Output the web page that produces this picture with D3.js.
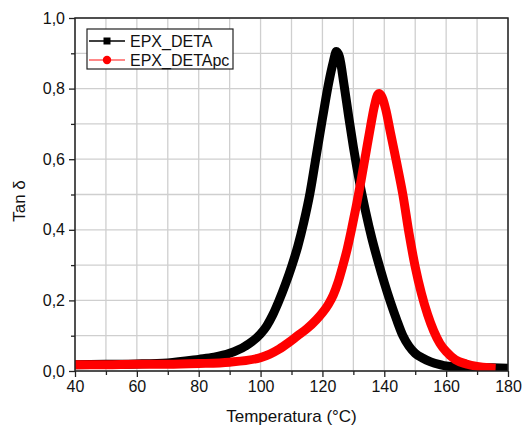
<!DOCTYPE html>
<html><head><meta charset="utf-8">
<script src="https://cdn.jsdelivr.net/npm/d3@7"></script>
<style>body{margin:0;background:#fff}svg{display:block}text{font-family:"Liberation Sans",Arial,sans-serif;fill:#111}</style>
</head><body><svg id="c" width="522" height="430"></svg>
<script>
const seriesNames = ["EPX_DETA", "EPX_DETApc"];
const seriesColors = ["#000000", "#ff0000"];
const legendLineColors = ["#000000", "#ff6060"];
const detaT = [40,50,60,70,80,85,90,95,100,102,104,106,108,110,112,114,116,118,120,122,123.5,124.5,125.5,127,128.5,130,132,134,136,138,140,142,144,146,148,150,152.5,155,158,160,165,170,175,180];
const detaV = [0.018,0.019,0.02,0.023,0.033,0.039,0.05,0.07,0.105,0.128,0.16,0.2,0.245,0.295,0.352,0.422,0.505,0.61,0.715,0.815,0.875,0.905,0.89,0.81,0.72,0.635,0.535,0.45,0.375,0.31,0.25,0.195,0.145,0.1,0.07,0.05,0.036,0.026,0.018,0.014,0.011,0.01,0.009,0.008];
const pcT = [40,50,60,70,80,90,100,103,106,109,112,115,118,120,122,123.5,125,126.5,128,129.5,131,132.5,134,135.5,136.8,137.8,138.4,139.3,140.5,142,144,146,148,150,152,154,156,158,160,163,166.5,170,174,176];
const pcV = [0.018,0.018,0.019,0.019,0.021,0.025,0.038,0.048,0.062,0.08,0.1,0.12,0.145,0.165,0.19,0.215,0.25,0.295,0.345,0.405,0.47,0.54,0.615,0.69,0.75,0.782,0.786,0.775,0.74,0.675,0.59,0.5,0.39,0.295,0.22,0.16,0.113,0.078,0.055,0.032,0.02,0.013,0.009,0.008];
const xTicks = [40,60,80,100,120,140,160,180];
const xMinor = [50,70,90,110,130,150,170];
const yTicks = [0,0.2,0.4,0.6,0.8,1.0];
const yMinor = [0.1,0.3,0.5,0.7,0.9];
const xLabel = "Temperatura (°C)";
const yLabel = "Tan δ";

const svg = d3.select("#c");
const L=75, R=508, T=18, B=371;
const x = d3.scaleLinear().domain([40,180]).range([L,R]);
const y = d3.scaleLinear().domain([0,1]).range([B,T]);
const fmt = d => d3.format(".1f")(d).replace(".", ",");

// grid
const g = svg.append("g");
g.selectAll("line.gx").data(xTicks.concat(xMinor)).join("line")
  .attr("x1",d=>x(d)).attr("x2",d=>x(d)).attr("y1",T).attr("y2",B)
  .attr("stroke","#cfcfcf").attr("stroke-width",1.3);
g.selectAll("line.gy").data(yTicks.concat(yMinor)).join("line")
  .attr("y1",d=>y(d)).attr("y2",d=>y(d)).attr("x1",L).attr("x2",R)
  .attr("stroke","#cfcfcf").attr("stroke-width",1.3);

// curves
svg.append("clipPath").attr("id","cp").append("rect").attr("x",L).attr("y",T).attr("width",R-L).attr("height",B-T);
const line = d3.line().x(d=>x(d[0])).y(d=>y(d[1])).curve(d3.curveMonotoneX);
const data = [d3.zip(detaT,detaV), d3.zip(pcT,pcV)];
svg.append("g").attr("clip-path","url(#cp)").selectAll("path").data(data).join("path")
  .attr("d",line).attr("fill","none").attr("stroke",(d,i)=>seriesColors[i])
  .attr("stroke-width",9).attr("stroke-linejoin","round");

// axes
const ax = svg.append("g").attr("transform",`translate(0,${B})`)
  .call(d3.axisBottom(x).tickValues(xTicks).tickSize(6).tickPadding(4).tickFormat(d3.format("d")));
ax.selectAll("text").attr("font-size",16);
svg.append("g").attr("transform",`translate(0,${B})`)
  .call(d3.axisBottom(x).tickValues(xMinor).tickSize(4).tickFormat(""));
const ay = svg.append("g").attr("transform",`translate(${L},0)`)
  .call(d3.axisLeft(y).tickValues(yTicks).tickSize(6).tickPadding(4).tickFormat(fmt));
ay.selectAll("text").attr("font-size",16);
svg.append("g").attr("transform",`translate(${L},0)`)
  .call(d3.axisLeft(y).tickValues(yMinor).tickSize(4).tickFormat(""));
svg.selectAll(".domain").remove();
svg.selectAll(".tick line").attr("stroke","#222").attr("stroke-width",1.3);
svg.append("rect").attr("x",L).attr("y",T).attr("width",R-L).attr("height",B-T)
  .attr("fill","none").attr("stroke","#222").attr("stroke-width",1.5);

svg.append("text").attr("x",(L+R)/2).attr("y",422).attr("text-anchor","middle").attr("font-size",17).text(xLabel);
svg.append("text").attr("transform","translate(25,201) rotate(-90)").attr("text-anchor","middle").attr("font-size",17).text(yLabel);

// legend
const lg = svg.append("g");
lg.append("rect").attr("x",87).attr("y",29).attr("width",146).attr("height",40).attr("fill","#fff").attr("stroke","#222").attr("stroke-width",1.2);
seriesNames.forEach((n,i)=>{
  const yy = 41 + i*19;
  lg.append("line").attr("x1",89).attr("x2",125).attr("y1",yy).attr("y2",yy).attr("stroke",legendLineColors[i]).attr("stroke-width",1.3);
  if(i===0) lg.append("rect").attr("x",103.5).attr("y",yy-3.5).attr("width",7).attr("height",7).attr("fill",seriesColors[i]);
  else lg.append("circle").attr("cx",107).attr("cy",yy).attr("r",4.2).attr("fill",seriesColors[i]);
  lg.append("text").attr("x",130).attr("y",yy+5.5).attr("font-size",16).text(n);
});
</script></body></html>
